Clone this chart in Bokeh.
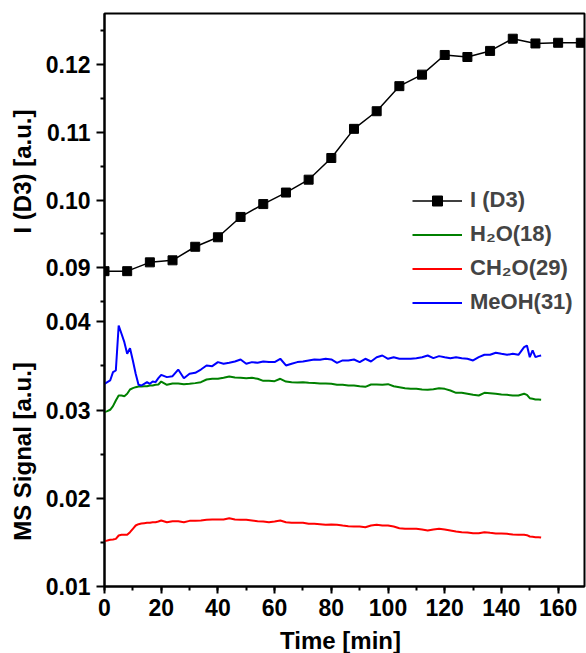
import math
from bokeh.plotting import figure
from bokeh.layouts import row, column
from bokeh.models import (Range1d, FixedTicker, SingleIntervalTicker,
                          CustomJSTickFormatter, Legend, LegendItem, Label)
from bokeh.embed import file_html
from bokeh.resources import INLINE

# ---------------- data ----------------
d3_time = [0, 8, 16, 24, 32, 40, 48, 56, 64, 72, 80,
           88, 96, 104, 112, 120, 128, 136, 144, 152, 160, 168]
d3_intensity = [0.0895, 0.0895, 0.0908, 0.0911, 0.0931, 0.0945, 0.0975, 0.0994,
                0.1011, 0.1030, 0.1062, 0.1105, 0.1131, 0.1168, 0.1185, 0.1214,
                0.1211, 0.1220, 0.1238, 0.1231, 0.1232, 0.1232]

ms_time = [0, 1, 2, 3, 4, 5, 6, 7, 8, 9, 10,
           11, 12, 13, 14, 15, 16, 17, 18, 19, 20,
           22, 24, 26, 28, 30, 32, 34, 36, 38, 40,
           42, 44, 46, 48, 50, 52, 54, 56, 58, 60,
           62, 64, 66, 68, 70, 72, 74, 76, 78, 80,
           82, 84, 86, 88, 90, 92, 94, 96, 98, 100,
           102, 104, 106, 108, 110, 112, 114, 116, 118, 120,
           122, 124, 126, 128, 130, 132, 134, 136, 138, 140,
           142, 144, 146, 148, 149, 150, 151, 152, 153, 154]

meoh_31 = [0.03297, 0.03316, 0.03335, 0.03429, 0.03448, 0.03958, 0.03864, 0.03769, 0.03637, 0.03701, 0.03562,
           0.03411, 0.03286, 0.03278, 0.03297, 0.03316, 0.03297, 0.03323, 0.03316, 0.03361, 0.03399,
           0.03373, 0.03384, 0.03459, 0.03361, 0.03411, 0.03422, 0.03459, 0.03505, 0.03497, 0.03543,
           0.03524, 0.03535, 0.03550, 0.03573, 0.03524, 0.03543, 0.03535, 0.03550, 0.03543, 0.03543,
           0.03581, 0.03505, 0.03524, 0.03543, 0.03550, 0.03562, 0.03573, 0.03569, 0.03581, 0.03573,
           0.03535, 0.03562, 0.03562, 0.03573, 0.03543, 0.03581, 0.03550, 0.03599, 0.03618, 0.03581,
           0.03599, 0.03581, 0.03581, 0.03581, 0.03588, 0.03599, 0.03618, 0.03588, 0.03611, 0.03599,
           0.03588, 0.03599, 0.03588, 0.03581, 0.03562, 0.03599, 0.03626, 0.03626, 0.03649, 0.03637,
           0.03626, 0.03637, 0.03626, 0.03712, 0.03731, 0.03599, 0.03675, 0.03599, 0.03611, 0.03618]

h2o_18 = [0.02976, 0.02987, 0.03003, 0.03044, 0.03108, 0.03165, 0.03165, 0.03157, 0.03184, 0.03233, 0.03248,
          0.03259, 0.03267, 0.03267, 0.03270, 0.03270, 0.03278, 0.03278, 0.03286, 0.03289, 0.03323,
          0.03286, 0.03301, 0.03301, 0.03293, 0.03297, 0.03305, 0.03316, 0.03346, 0.03354, 0.03354,
          0.03365, 0.03380, 0.03369, 0.03365, 0.03361, 0.03365, 0.03354, 0.03331, 0.03331, 0.03327,
          0.03354, 0.03323, 0.03316, 0.03312, 0.03316, 0.03308, 0.03305, 0.03301, 0.03301, 0.03297,
          0.03286, 0.03286, 0.03278, 0.03278, 0.03270, 0.03263, 0.03289, 0.03289, 0.03286, 0.03293,
          0.03270, 0.03259, 0.03248, 0.03240, 0.03240, 0.03233, 0.03229, 0.03236, 0.03248, 0.03240,
          0.03221, 0.03195, 0.03195, 0.03184, 0.03172, 0.03165, 0.03195, 0.03191, 0.03184, 0.03176,
          0.03172, 0.03165, 0.03165, 0.03184, 0.03172, 0.03134, 0.03127, 0.03119, 0.03119, 0.03116]

ch2o_29 = [0.01514, 0.01521, 0.01529, 0.01533, 0.01540, 0.01578, 0.01586, 0.01586, 0.01586, 0.01616, 0.01654,
           0.01691, 0.01706, 0.01714, 0.01718, 0.01722, 0.01722, 0.01729, 0.01729, 0.01737, 0.01748,
           0.01729, 0.01740, 0.01740, 0.01729, 0.01744, 0.01744, 0.01748, 0.01756, 0.01759, 0.01759,
           0.01759, 0.01774, 0.01759, 0.01756, 0.01756, 0.01748, 0.01740, 0.01737, 0.01729, 0.01737,
           0.01748, 0.01729, 0.01722, 0.01722, 0.01722, 0.01710, 0.01710, 0.01706, 0.01699, 0.01703,
           0.01699, 0.01691, 0.01684, 0.01680, 0.01680, 0.01672, 0.01691, 0.01699, 0.01691, 0.01691,
           0.01680, 0.01661, 0.01654, 0.01654, 0.01654, 0.01646, 0.01635, 0.01646, 0.01654, 0.01646,
           0.01635, 0.01623, 0.01616, 0.01612, 0.01604, 0.01604, 0.01616, 0.01608, 0.01601, 0.01601,
           0.01597, 0.01589, 0.01586, 0.01586, 0.01582, 0.01567, 0.01563, 0.01559, 0.01559, 0.01555]

top_ticks = [0.09, 0.10, 0.11, 0.12]
top_minor = [0.085, 0.095, 0.105, 0.115, 0.125]
bot_ticks = [0.01, 0.02, 0.03, 0.04]
bot_minor = [0.015, 0.025, 0.035]

legend_labels = ["I (D3)", "H\u2082O(18)", "CH\u2082O(29)", "MeOH(31)"]
y_title_top = "I (D3) [a.u.]"
y_title_bot = "MS Signal [a.u.]"
x_title = "Time [min]"

# ---------------- scales ----------------
X_END = 169.3
BOT_START, BOT_END = 0.01, 0.07494
TOP_START, TOP_END = 0.04297, 0.12752


def top_to_bot(v):
    return BOT_START + (v - TOP_START) * (BOT_END - BOT_START) / (TOP_END - TOP_START)


FONT = "Liberation Sans"
STRIP_W = 40
MAIN_H = 626
BOTTOM_H = 653 - MAIN_H
FRAME_BOTTOM = 586

p = figure(width=586 - STRIP_W, height=MAIN_H, output_backend="svg", toolbar_location=None,
           x_range=Range1d(0, X_END), y_range=Range1d(BOT_START, BOT_END),
           min_border_left=104 - STRIP_W, min_border_right=2, min_border_top=13,
           min_border_bottom=MAIN_H - FRAME_BOTTOM)
p.extra_y_ranges = {"top": Range1d(TOP_START, TOP_END)}

p.background_fill_color = "white"
p.border_fill_color = "white"
p.outline_line_color = "black"
p.outline_line_width = 2
p.xgrid.visible = False
p.ygrid.visible = False

# x axis
xa = p.xaxis[0]
xa.ticker = SingleIntervalTicker(interval=20, num_minor_ticks=2)
# y axis (one continuous line, two stacked scales)
ya = p.yaxis[0]
ya.ticker = FixedTicker(ticks=bot_ticks + [top_to_bot(v) for v in top_ticks],
                        minor_ticks=bot_minor + [top_to_bot(v) for v in top_minor])
ya.formatter = CustomJSTickFormatter(
    args=dict(ts=TOP_START, te=TOP_END, bs=BOT_START, be=BOT_END, cut=0.043),
    code="""
    if (tick > cut) {
        const v = ts + (tick - bs) * (te - ts) / (be - bs);
        return v.toFixed(2);
    }
    return tick.toFixed(2);
    """)

for ax, tout, sto in ((xa, 7, 5), (ya, 8, 6)):
    ax.axis_line_width = 2
    ax.axis_line_color = "black"
    ax.major_tick_line_width = 2
    ax.minor_tick_line_width = 2
    ax.major_tick_in = 0
    ax.major_tick_out = tout
    ax.minor_tick_in = 0
    ax.minor_tick_out = 4
    ax.major_label_standoff = sto
    ax.major_label_text_font = FONT
    ax.major_label_text_font_style = "bold"
    ax.major_label_text_font_size = "23px"
    ax.major_label_text_color = "black"

# ---------------- glyphs ----------------
r_h2o = p.line(ms_time, h2o_18, line_color="#008000", line_width=2)
r_ch2o = p.line(ms_time, ch2o_29, line_color="#FF0000", line_width=2)
r_meoh = p.line(ms_time, meoh_31, line_color="#0000FF", line_width=2)
r_d3l = p.line(d3_time, d3_intensity, y_range_name="top", line_color="black", line_width=1.5)
r_d3s = p.scatter(d3_time, d3_intensity, y_range_name="top", marker="square",
                  size=9, fill_color="black", line_color="black")

legend = Legend(items=[LegendItem(label=legend_labels[0], renderers=[r_d3l, r_d3s]),
                       LegendItem(label=legend_labels[1], renderers=[r_h2o]),
                       LegendItem(label=legend_labels[2], renderers=[r_ch2o]),
                       LegendItem(label=legend_labels[3], renderers=[r_meoh])],
                location=(308, 271), border_line_color=None, background_fill_alpha=0,
                padding=0, margin=0, spacing=8, label_text_font=FONT,
                label_text_font_style="bold", label_text_font_size="22px",
                glyph_width=50, glyph_height=25, label_height=25, label_standoff=8)
p.add_layout(legend)


def strip(w, h):
    s = figure(width=w, height=h, output_backend="svg", toolbar_location=None,
               x_axis_location=None, y_axis_location=None, min_border=0,
               x_range=Range1d(0, 1), y_range=Range1d(0, 1))
    s.outline_line_color = None
    s.grid.visible = False
    s.background_fill_color = "white"
    s.border_fill_color = "white"
    return s


def title_label(txt, x, y, ang):
    return Label(x=x, y=y, x_units="screen", y_units="screen", text=txt,
                 angle=ang, text_align="center", text_baseline="middle",
                 text_font=FONT, text_font_style="bold", text_font_size="24px",
                 text_color="black")


# the strip's frame is aligned with the main frame (bottom at page y 586)
left = strip(STRIP_W, MAIN_H)
left.add_layout(title_label(y_title_top, 22, FRAME_BOTTOM - 171, math.pi / 2))
left.add_layout(title_label(y_title_bot, 22, FRAME_BOTTOM - 451, math.pi / 2))

bottom = strip(586, BOTTOM_H)
bottom.add_layout(title_label(x_title, 340, 13, 0))

layout = column(row(left, p), bottom)
open("out.html", "w").write(file_html(layout, INLINE))
